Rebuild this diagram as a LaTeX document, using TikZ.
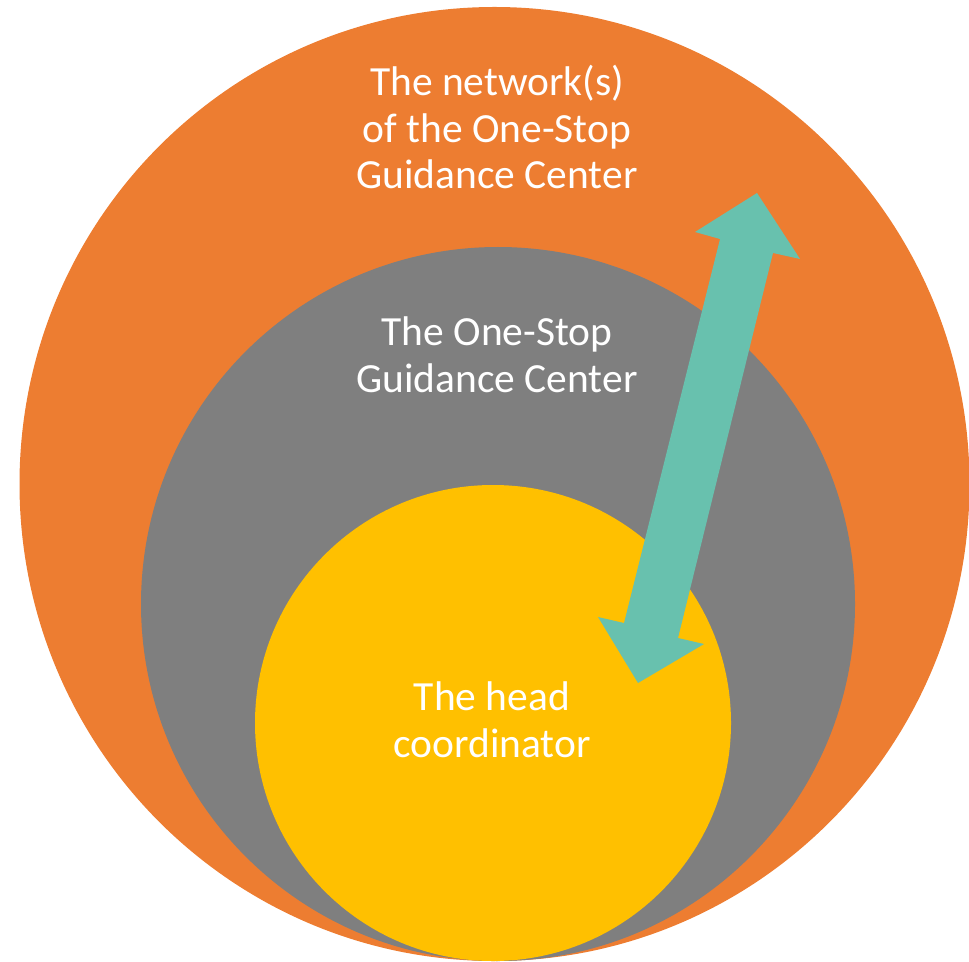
\documentclass[tikz,border=0pt]{standalone}
\usepackage{fontspec}
\setmainfont{Carlito}
\usepackage{xcolor}
\usepackage{tikz}

\definecolor{ringorange}{HTML}{ED7D31}
\definecolor{ringgray}{HTML}{7F7F7F}
\definecolor{ringyellow}{HTML}{FFC000}
\definecolor{arrowteal}{HTML}{68C1AE}

\tikzset{
    label text/.style={text=white, align=center, font=\fontsize{23.6}{26.6}\selectfont}
}

\begin{document}
\begin{tikzpicture}[x=0.02cm,y=-0.02cm]
    % Frame of the picture
    \useasboundingbox (0,0) rectangle (969,962);

    % The three circles
    \fill[ringorange] (494.5,484) ellipse [x radius=475, y radius=477];  % Network
    \fill[ringgray] (498,604) circle [radius=357];  % One-Stop center
    \fill[ringyellow] (493,723) circle [radius=238];  % Head coordinator

    % Double arrow
    \fill[arrowteal] (757,193) -- (800,259) -- (773,253) -- (678,638) -- (704,644)
        -- (638,683) -- (598,617) -- (624,623) -- (720,239) -- (695,232) -- cycle;

    % Labels
    \node[label text] (network) at (497,127) {The network(s)\\of the One-Stop\\Guidance Center};
    \node[label text] (center) at (497,355) {The One-Stop\\Guidance Center};
    \node[label text] (head) at (492,720) {The head\\coordinator};

\end{tikzpicture}
\end{document}
